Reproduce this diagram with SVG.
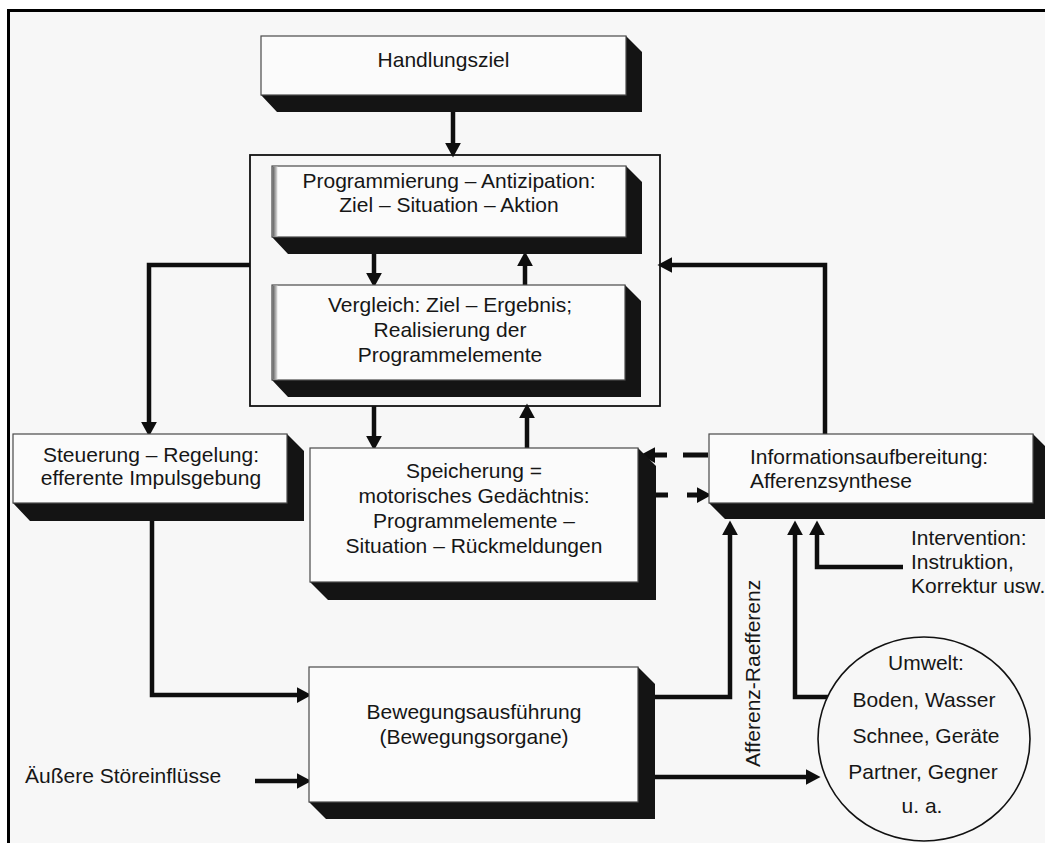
<svg xmlns="http://www.w3.org/2000/svg" width="1045" height="843" viewBox="0 0 1045 843">
<defs>
<style>
text{font-family:"Liberation Sans",Arial,Helvetica,sans-serif;font-size:21px;fill:#161616}
.face{fill:#fbfbfb;stroke:#4a4a4a;stroke-width:1.2}
.shadow{fill:#141414}
.stripe{fill:url(#lg)}
.c{text-anchor:middle}
.conn{fill:none;stroke:#0e0e0e;stroke-width:4.5;stroke-linejoin:miter}
.dash{fill:none;stroke:#0e0e0e;stroke-width:5}
</style>
<linearGradient id="lg" x1="0" x2="1" y1="0" y2="0">
<stop offset="0" stop-color="#5a5a5a"/>
<stop offset="1" stop-color="#e6e6e6"/>
</linearGradient>
<marker id="ah" markerUnits="userSpaceOnUse" markerWidth="16" markerHeight="16" refX="1" refY="6.5" orient="auto" viewBox="0 0 13 13">
<path d="M0,0 L12,6.5 L0,13 z" fill="#0e0e0e"/>
</marker>
</defs>
<rect x="0" y="0" width="1045" height="843" fill="#ffffff"/>
<rect x="8.5" y="10.5" width="1040" height="840" fill="#f7f7f7" stroke="#000" stroke-width="3"/>

<g id="connectors">
<line class="conn" x1="453" y1="112" x2="453" y2="144" marker-end="url(#ah)"/>
<line class="conn" x1="374" y1="254" x2="374" y2="274" marker-end="url(#ah)"/>
<line class="conn" x1="525" y1="285" x2="525" y2="265" marker-end="url(#ah)"/>
<line class="conn" x1="374" y1="406" x2="374" y2="437" marker-end="url(#ah)"/>
<line class="conn" x1="527" y1="448" x2="527" y2="417" marker-end="url(#ah)"/>
<path class="conn" d="M250,265 H149 V423" marker-end="url(#ah)"/>
<path class="conn" d="M152,521 V695 H298" marker-end="url(#ah)"/>
<path class="conn" d="M255,781 H298" marker-end="url(#ah)"/>
<path class="conn" d="M655,777 H807" marker-end="url(#ah)"/>
<path class="conn" d="M655,697 H730 V534" marker-end="url(#ah)"/>
<path class="conn" d="M840,697 H795 V534" marker-end="url(#ah)"/>
<path class="conn" d="M903,567 H817 V534" marker-end="url(#ah)"/>
<path class="conn" d="M825,434 V265 H671" marker-end="url(#ah)"/>
<line class="dash" x1="708" y1="455" x2="654" y2="455" stroke-dasharray="25 16" marker-end="url(#ah)"/>
<line class="dash" x1="645" y1="495" x2="698" y2="495" stroke-dasharray="23 19" marker-end="url(#ah)"/>
</g>

<rect id="container" x="250" y="155" width="410" height="251" fill="none" stroke="#111" stroke-width="1.8"/>

<g id="handlungsziel">
<polygon class="shadow" points="261,95 626,95 626,36 642,52 642,112 277,112"/>
<rect class="face" x="261" y="36" width="365" height="59"/>
<text class="c" x="443.5" y="67">Handlungsziel</text>
</g>

<g id="programmierung">
<polygon class="shadow" points="272,237 626,237 626,166 642,182 642,254 288,254"/>
<rect class="face" x="272" y="166" width="354" height="71"/>
<rect class="stripe" x="272.6" y="166.6" width="5" height="69.8"/>
<text class="c" x="449" y="188">Programmierung – Antizipation:</text>
<text class="c" x="449" y="212">Ziel – Situation – Aktion</text>
</g>

<g id="vergleich">
<polygon class="shadow" points="272,380 625,380 625,285 641,301 641,397 288,397"/>
<rect class="face" x="272" y="285" width="353" height="95"/>
<rect class="stripe" x="272.6" y="285.6" width="5" height="93.8"/>
<text class="c" x="450" y="312">Vergleich: Ziel – Ergebnis;</text>
<text class="c" x="450" y="337">Realisierung der</text>
<text class="c" x="450" y="362">Programmelemente</text>
</g>

<g id="steuerung">
<polygon class="shadow" points="13,503 287,503 287,434 304,451 304,521 30,521"/>
<rect class="face" x="13" y="434" width="274" height="69"/>
<text class="c" x="151" y="462">Steuerung – Regelung:</text>
<text class="c" x="151" y="485">efferente Impulsgebung</text>
</g>

<g id="speicherung">
<polygon class="shadow" points="310,582 638,582 638,448 656,466 656,600 328,600"/>
<rect class="face" x="310" y="448" width="328" height="134"/>
<text class="c" x="474" y="478">Speicherung =</text>
<text class="c" x="474" y="503">motorisches Gedächtnis:</text>
<text class="c" x="474" y="528">Programmelemente –</text>
<text class="c" x="474" y="553">Situation – Rückmeldungen</text>
</g>

<g id="informationsaufbereitung">
<polygon class="shadow" points="709,503 1033,503 1033,434 1049,450 1049,519 725,519"/>
<rect class="face" x="709" y="434" width="324" height="69"/>
<text x="750" y="464">Informationsaufbereitung:</text>
<text x="750" y="488">Afferenzsynthese</text>
</g>

<g id="bewegung">
<polygon class="shadow" points="309,802 638,802 638,667 655,684 655,819 326,819"/>
<rect class="face" x="309" y="667" width="329" height="135"/>
<text class="c" x="474" y="719">Bewegungsausführung</text>
<text class="c" x="474" y="744">(Bewegungsorgane)</text>
</g>

<g id="umwelt">
<ellipse cx="924" cy="739" rx="106" ry="102" fill="#f7f7f7" stroke="#111" stroke-width="1.6"/>
<text class="c" x="926" y="670">Umwelt:</text>
<text class="c" x="924" y="707">Boden, Wasser</text>
<text class="c" x="926" y="743">Schnee, Geräte</text>
<text class="c" x="923" y="779">Partner, Gegner</text>
<text class="c" x="922" y="813">u. a.</text>
</g>

<g id="labels">
<text x="25" y="783">Äußere Störeinflüsse</text>
<text x="911" y="545">Intervention:</text>
<text x="911" y="569">Instruktion,</text>
<text x="911" y="593">Korrektur usw.</text>
<text transform="translate(760,767) rotate(-90)">Afferenz-Raefferenz</text>
</g>
</svg>
